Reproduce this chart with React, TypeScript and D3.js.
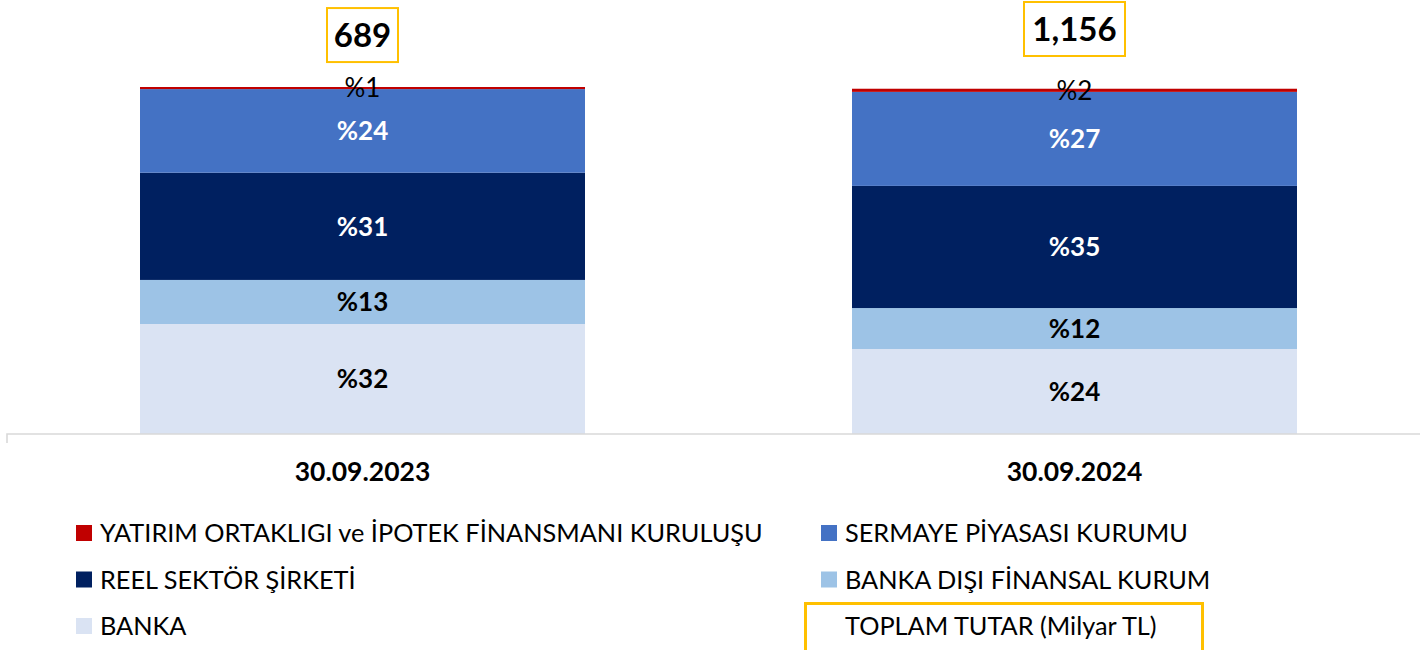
import React from "react";
import * as d3 from "d3";

const categories = ["30.09.2023", "30.09.2024"];
const seriesNames = [
  "BANKA",
  "BANKA DIŞI FİNANSAL KURUM",
  "REEL SEKTÖR ŞİRKETİ",
  "SERMAYE PİYASASI KURUMU",
  "YATIRIM ORTAKLIGI ve İPOTEK FİNANSMANI KURULUŞU",
];
const seriesColors = ["#DAE3F3", "#9DC3E6", "#002060", "#4472C4", "#C00000"];
const labelColors = ["#000000", "#000000", "#FFFFFF", "#FFFFFF", "#000000"];
const labelWeights = [700, 700, 700, 700, 400];
// shares (%) per category, bottom to top
const banka = [31.7, 24.5];
const bankaDisi = [12.7, 11.8];
const reel = [30.9, 35.2];
const sermaye = [24.1, 27.1];
const yatirim = [0.6, 0.9];
// displayed labels
const bankaLbl = ["%32", "%24"];
const bankaDisiLbl = ["%13", "%12"];
const reelLbl = ["%31", "%35"];
const sermayeLbl = ["%24", "%27"];
const yatirimLbl = ["%1", "%2"];
const totals = [689, 1156];
const totalLabels = ["689", "1,156"];
const totalLegend = "TOPLAM TUTAR (Milyar TL)";

const FONT = "Lato, 'Open Sans', sans-serif";

export default function App() {
  const W = 1420;
  const H = 650;
  const values = [banka, bankaDisi, reel, sermaye, yatirim];
  const labels = [bankaLbl, bankaDisiLbl, reelLbl, sermayeLbl, yatirimLbl];

  const x = d3
    .scaleBand<string>()
    .domain(categories)
    .range([6.5, 1430.5])
    .paddingInner(0.375)
    .paddingOuter(0.1875);
  const y = d3.scaleLinear().domain([0, 100]).range([434, 87]);
  const yTot = d3.scaleLinear().domain([0, 1156]).range([44, 29]);

  const table = categories.map((c, i) => {
    const row: any = { cat: c };
    seriesNames.forEach((s, k) => (row[s] = values[k][i]));
    return row;
  });
  const stacked = d3.stack<any>().keys(seriesNames)(table);

  const legendLeft = [4, 2, 0];
  const legendRight = [3, 1];
  const rowY = (r: number) => 533 + r * 46.5;

  return (
    <svg
      width={W}
      height={H}
      style={{ position: "absolute", left: 0, top: 0, background: "#fff" }}
      fontFamily={FONT}
    >
      {stacked.map((layer, k) => (
        <g key={k}>
          {layer.map((d, i) => (
            <rect
              key={i}
              x={x(categories[i])}
              width={x.bandwidth()}
              y={y(d[1])}
              height={y(d[0]) - y(d[1])}
              fill={seriesColors[k]}
            />
          ))}
        </g>
      ))}
      {stacked.map((layer, k) => (
        <g key={"l" + k}>
          {layer.map((d, i) => (
            <text
              key={i}
              x={(x(categories[i]) as number) + x.bandwidth() / 2}
              y={(y(d[0]) + y(d[1])) / 2}
              dy="0.36em"
              textAnchor="middle"
              fontSize={26}
              fontWeight={labelWeights[k]}
              fill={labelColors[k]}
            >
              {labels[k][i]}
            </text>
          ))}
        </g>
      ))}
      {/* axis */}
      <path d={`M7,443V434H1420`} fill="none" stroke="#D9D9D9" strokeWidth={1.6} />
      {categories.map((c) => (
        <text
          key={c}
          x={(x(c) as number) + x.bandwidth() / 2}
          y={471}
          dy="0.36em"
          textAnchor="middle"
          fontSize={26.5}
          fontWeight={700}
        >
          {c}
        </text>
      ))}
      {/* totals */}
      {categories.map((c, i) => {
        const cx = (x(c) as number) + x.bandwidth() / 2;
        const cy = yTot(totals[i]);
        const w = 26 + totalLabels[i].length * 15;
        return (
          <g key={"t" + i}>
            <rect x={cx - w / 2} y={cy - 27} width={w} height={54} fill="#fff" stroke="#FFC000" strokeWidth={2} />
            <text x={cx} y={cy} dy="0.36em" textAnchor="middle" fontSize={33} fontWeight={700}>
              {totalLabels[i]}
            </text>
          </g>
        );
      })}
      {/* legend */}
      {legendLeft.map((k, r) => (
        <g key={"ll" + k}>
          <rect x={76} y={rowY(r) - 8} width={16} height={16} fill={seriesColors[k]} />
          <text x={100} y={rowY(r)} dy="0.36em" fontSize={25.3}>
            {seriesNames[k]}
          </text>
        </g>
      ))}
      {legendRight.map((k, r) => (
        <g key={"lr" + k}>
          <rect x={821} y={rowY(r) - 8} width={16} height={16} fill={seriesColors[k]} />
          <text x={845} y={rowY(r)} dy="0.36em" fontSize={25.3}>
            {seriesNames[k]}
          </text>
        </g>
      ))}
      <rect x={805.5} y={603.5} width={397} height={50} fill="none" stroke="#FFC000" strokeWidth={3} />
      <text x={845} y={rowY(2)} dy="0.36em" fontSize={25.3}>
        {totalLegend}
      </text>
    </svg>
  );
}
